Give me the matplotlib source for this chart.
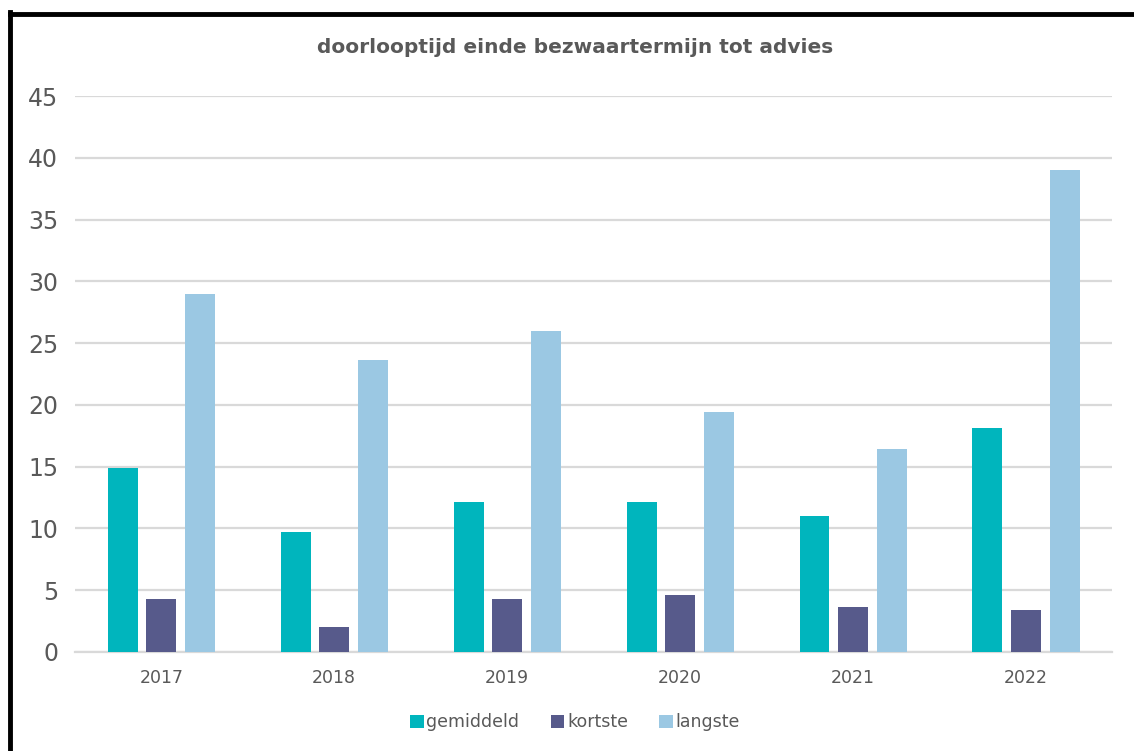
import numpy as np
import matplotlib
matplotlib.use("Agg")
import matplotlib.pyplot as plt
from matplotlib.lines import Line2D

jaren = ["2017", "2018", "2019", "2020", "2021", "2022"]
gemiddeld = [14.9, 9.7, 12.1, 12.1, 11.0, 18.1]
kortste = [4.3, 2.0, 4.3, 4.6, 3.6, 3.4]
langste = [29.0, 23.6, 26.0, 19.4, 16.4, 39.0]

series = [("gemiddeld", gemiddeld, "#00B5BD"),
          ("kortste", kortste, "#575A8B"),
          ("langste", langste, "#9BC8E3")]

grijs = "#595959"
plt.rcParams["font.family"] = ["DejaVu Sans"]

fig = plt.figure(figsize=(11.34, 7.51), dpi=100)
ax = fig.add_axes([0.066, 0.132, 0.915, 0.740])

x = np.arange(len(jaren))
w = 0.173
offs = [-0.223, 0.0, 0.223]
for (naam, vals, kleur), o in zip(series, offs):
    ax.bar(x + o, vals, width=w, color=kleur, label=naam, zorder=3)

ax.set_xlim(-0.5, len(jaren) - 0.5)
ax.set_ylim(0, 45)
ax.set_yticks(range(0, 46, 5))
ax.set_xticks(x)
ax.set_xticklabels(jaren)
ax.yaxis.grid(True, color="#D9D9D9", lw=1.6, zorder=0)
for s in ["top", "right", "left"]:
    ax.spines[s].set_visible(False)
ax.spines["bottom"].set_color("#D9D9D9")
ax.spines["bottom"].set_linewidth(1.6)
ax.tick_params(axis="both", length=0, colors=grijs)
ax.tick_params(axis="y", labelsize=17, pad=12)
ax.tick_params(axis="x", labelsize=12.5, pad=12)

fig.text(0.507, 0.937, "doorlooptijd einde bezwaartermijn tot advies",
         ha="center", va="center", fontsize=14.5, fontweight="bold", color=grijs)

fig.legend(loc="center", bbox_to_anchor=(0.507, 0.038), ncol=3, frameon=False,
           fontsize=12.5, handlelength=0.8, handleheight=0.8, handletextpad=0.15,
           columnspacing=1.8, labelcolor=grijs)

# zwarte rand links en boven
fig.add_artist(Line2D([9.5 / 1134, 9.5 / 1134], [0, 1 - 12 / 751], color="black",
                      lw=3.5, transform=fig.transFigure, solid_capstyle="projecting"))
fig.add_artist(Line2D([9.5 / 1134, 1], [1 - 14 / 751, 1 - 14 / 751], color="black",
                      lw=3.5, transform=fig.transFigure, solid_capstyle="projecting"))

fig.savefig("out.png", dpi=100)
